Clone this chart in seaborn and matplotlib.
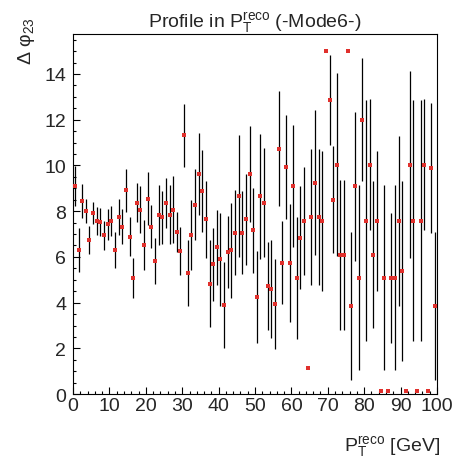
"""Profile of delta phi_23 versus reconstructed pT (Mode6)"""

import numpy as np
import pandas as pd
import seaborn as sns
import matplotlib.pyplot as plt
from matplotlib.ticker import MultipleLocator

# bin centres of the 100 x 1 GeV profile bins
pt_bins = np.arange(100) + 0.5

dphi_mean = [9.10, 6.30, 8.44, 8.01, 6.74, 7.92, 7.58, 7.54, 6.94, 7.42,
             7.58, 6.30, 7.74, 7.32, 8.91, 6.89, 5.09, 8.38, 8.06, 6.52,
             8.54, 7.32, 5.82, 7.85, 7.74, 8.34, 7.85, 8.06, 7.10, 6.25,
             11.31, 5.30, 6.94, 8.28, 9.62, 8.88, 7.64, 4.83, 5.68, 6.42,
             5.90, 3.89, 6.22, 6.29, 7.06, 8.66, 7.06, 7.64, 9.62, 7.16,
             4.24, 8.66, 8.38, 4.72, 4.61, 3.96, 10.74, 5.74, 9.94, 5.74,
             9.10, 5.09, 6.84, 7.58, 1.14, 7.74, 9.24, 7.74, 7.58, 15.0,
             12.87, 8.50, 10.04, 6.10, 6.10, 15.0, 3.86, 9.08, 5.09, 12.0,
             7.58, 10.04, 6.10, 7.58, 0.15, 5.09, 0.15, 5.09, 5.09, 7.58,
             5.40, 0.15, 10.04, 7.58, 0.15, 7.58, 10.04, 0.15, 9.88, 3.86]

dphi_err = [0.87, 0.95, 0.73, 0.51, 0.62, 0.48, 0.62, 0.62, 0.62, 0.69,
            0.66, 0.80, 0.80, 0.76, 0.95, 0.87, 0.87, 0.87, 1.02, 1.09,
            1.16, 0.95, 1.02, 1.31, 1.16, 1.09, 1.28, 1.46, 0.87, 1.05,
            1.38, 1.46, 1.53, 1.56, 1.78, 1.78, 1.67, 1.89, 1.60, 1.64,
            2.04, 1.89, 1.56, 2.07, 1.86, 2.66, 1.82, 2.00, 2.11, 1.86,
            2.00, 2.73, 2.40, 1.93, 2.15, 1.97, 2.51, 1.82, 2.26, 2.58,
            2.66, 2.66, 2.26, 2.36, 0.0, 2.98, 3.17, 2.98, 3.06, 0.0,
            1.98, 2.33, 4.00, 3.28, 3.28, 0.0, 3.24, 3.24, 4.04, 2.69,
            5.27, 2.87, 3.20, 3.06, 0.0, 4.04, 0.0, 2.84, 4.04, 3.71,
            3.93, 0.0, 4.08, 5.27, 0.0, 5.27, 2.87, 0.0, 2.84, 3.24]


def main():
    """Run the program."""

    sns.set_theme(style='white')
    plt.rcParams['font.family'] = ['Liberation Sans', 'DejaVu Sans']
    plt.rcParams['mathtext.default'] = 'regular'

    df = pd.DataFrame({'pt': pt_bins, 'dphi': dphi_mean, 'err': dphi_err})

    fig = plt.figure(figsize=(4.57, 4.60), dpi=100)
    ax = fig.add_axes([0.160, 0.141, 0.796, 0.783])

    ax.vlines(df['pt'], df['dphi'] - df['err'], df['dphi'] + df['err'],
              color='black', lw=0.9, zorder=2)
    sns.scatterplot(data=df, x='pt', y='dphi', ax=ax, marker='s', s=9,
                    color='#e0302c', linewidth=0, zorder=3, clip_on=True)

    ax.set_xlim(0, 100)
    ax.set_ylim(0, 15.75)
    ax.xaxis.set_major_locator(MultipleLocator(10))
    ax.xaxis.set_minor_locator(MultipleLocator(2))
    ax.yaxis.set_major_locator(MultipleLocator(2))
    ax.yaxis.set_minor_locator(MultipleLocator(0.5))
    ax.tick_params(which='both', direction='in', top=False, right=False,
                   bottom=True, left=True, color='black', width=0.8)
    ax.tick_params(which='major', length=5)
    ax.tick_params(which='minor', length=2.5)
    ax.tick_params(axis='x', labelsize=14, pad=2)
    ax.tick_params(axis='y', labelsize=14, pad=5)
    for spine in ax.spines.values():
        spine.set_color('black')
        spine.set_linewidth(0.8)

    ax.set_title(r'Profile in P$_{T}^{reco}$ (-Mode6-)', fontsize=14, pad=2)
    ax.set_xlabel(r'P$_{T}^{reco}$ [GeV]', fontsize=14, ha='right')
    ax.xaxis.set_label_coords(1.01, -0.11)
    ax.set_ylabel(r'Δ φ$_{23}$', fontsize=14, ha='right')
    ax.yaxis.set_label_coords(-0.10, 1.05)

    plt.savefig('out.png', dpi=100)


if __name__ == '__main__':
    main()
